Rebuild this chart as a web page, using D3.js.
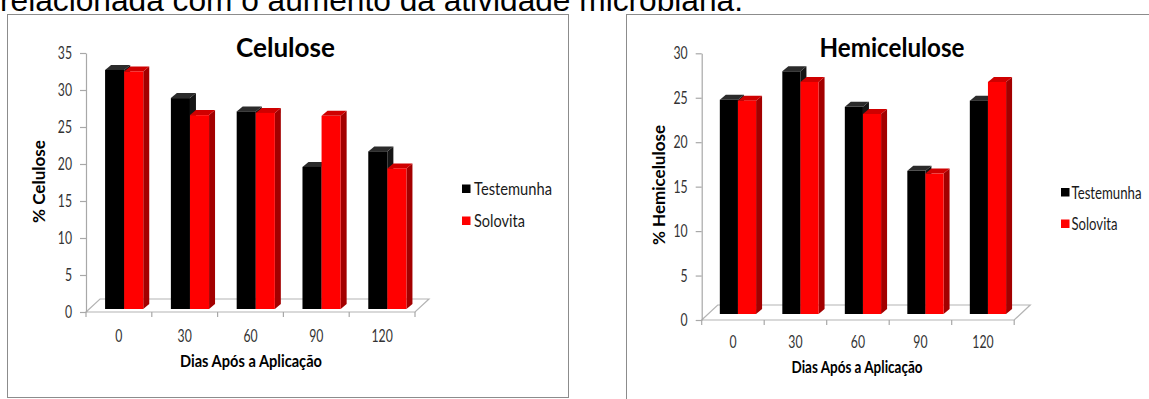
<!DOCTYPE html>
<html>
<head>
<meta charset="utf-8">
<script src="https://cdn.jsdelivr.net/npm/d3@7"></script>
<style>
  html, body { margin: 0; padding: 0; background: #fff; overflow: hidden; }
  svg { display: block; }
</style>
</head>
<body>
<svg id="chart" width="1149" height="399"></svg>
<script>
// Days after application (categories) and the two treatments
const days = ["0", "30", "60", "90", "120"];
const seriesNames = ["Testemunha", "Solovita"];

// % Celulose
const celuloseTestemunha = [32.3, 28.5, 26.7, 19.2, 21.3];
const celuloseSolovita   = [32.1, 26.2, 26.5, 26.1, 19.0];

// % Hemicelulose
const hemiTestemunha = [24.1, 27.3, 23.3, 16.1, 24.0];
const hemiSolovita   = [24.0, 26.1, 22.5, 15.8, 26.1];

// Value-axis tick labels
const celuloseTicks = [0, 5, 10, 15, 20, 25, 30, 35];
const hemiTicks = [0, 5, 10, 15, 20, 25, 30];

const svg = d3.select("#chart");
const FONT = "Lato, 'Open Sans', sans-serif";

const palette = {
  front: ["#000000", "#ff0000"],
  top:   ["#2b2b2b", "#cf0000"],
  side:  ["#151515", "#a30000"]
};

// compress text horizontally to a narrow, Calibri-like proportion
function squeeze(sel, k) {
  sel.each(function () {
    const w = this.getComputedTextLength();
    d3.select(this).attr("textLength", w * k).attr("lengthAdjust", "spacingAndGlyphs");
  });
}

// sentence running above the figures
svg.append("text")
  .attr("x", 0).attr("y", 11)
  .attr("font-family", "'Liberation Sans', Arial, sans-serif")
  .attr("font-size", 32)
  .attr("fill", "#000")
  .attr("textLength", 743).attr("lengthAdjust", "spacingAndGlyphs")
  .text("relacionada com o aumento da atividade microbiana.");

function drawPanel(p) {
  const g = svg.append("g");

  // chart area border
  g.append("rect")
    .attr("x", p.frame[0] + 0.5).attr("y", p.frame[1] + 0.5)
    .attr("width", p.frame[2]).attr("height", p.frame[3])
    .attr("fill", "#fff").attr("stroke", "#8c8c8c").attr("stroke-width", 1);

  const x = d3.scaleBand().domain(days).range(p.xRange).padding(0);
  const y = d3.scaleLinear().domain([0, p.max]).range(p.yRange);
  // bars stand slightly behind the front edge of the floor
  const yb = d3.scaleLinear().domain([0, p.max]).range([p.yRange[0] - p.lift, p.yRange[1] - p.lift]);
  const bw = x.bandwidth();
  const [fdx, fdy] = p.floor;
  const y0 = y(0);
  const [xa, xb] = p.xRange;

  // 3-D floor
  g.append("path")
    .attr("d", `M${xa},${y0}L${xb},${y0}L${xb + fdx},${y0 + fdy}L${xa + fdx},${y0 + fdy}Z`)
    .attr("fill", "#fff").attr("stroke", "#b4b4b4").attr("stroke-width", 1.2);

  // category tick marks below the floor front edge
  const bounds = days.map(d => x(d)).concat([xb]);
  g.selectAll("line.xt").data(bounds).join("line")
    .attr("x1", d => d).attr("x2", d => d)
    .attr("y1", y0).attr("y2", y0 + 5)
    .attr("stroke", "#a8a8a8").attr("stroke-width", 1.2);

  // value axis
  const axis = g.append("g")
    .attr("transform", `translate(${xa},0)`)
    .call(d3.axisLeft(y).tickValues(p.ticks).tickSize(6).tickSizeOuter(0).tickPadding(8));
  axis.select(".domain").attr("stroke", "#a8a8a8").attr("stroke-width", 1.2);
  axis.selectAll(".tick line").attr("stroke", "#a8a8a8").attr("stroke-width", 1.2);
  axis.selectAll(".tick text")
    .attr("font-family", FONT).attr("font-size", 17).attr("fill", "#333");
  squeeze(axis.selectAll(".tick text"), 0.72);

  // category labels
  const cat = g.selectAll("text.cat").data(days).join("text")
    .attr("x", d => x(d) + bw / 2).attr("y", p.catY)
    .attr("text-anchor", "middle")
    .attr("font-family", FONT).attr("font-size", 17).attr("fill", "#333")
    .text(d => d);
  squeeze(cat, 0.72);

  // bars
  const bar = bw * 0.29;
  const [ddx, ddy] = [6, -5];
  const rows = [];
  days.forEach((d, i) => {
    [p.a[i], p.b[i]].forEach((v, s) => rows.push({ d, v, s }));
  });
  const bars = g.selectAll("g.bar").data(rows).join("g");
  bars.each(function (r) {
    const gb = d3.select(this);
    const bx = x(r.d) + bw * 0.29 + r.s * bar;
    const top = yb(r.v), base = yb(0);
    gb.append("path")
      .attr("d", `M${bx + bar},${top}L${bx + bar + ddx},${top + ddy}L${bx + bar + ddx},${base + ddy}L${bx + bar},${base}Z`)
      .attr("fill", palette.side[r.s]);
    gb.append("path")
      .attr("d", `M${bx},${top}L${bx + ddx},${top + ddy}L${bx + bar + ddx},${top + ddy}L${bx + bar},${top}Z`)
      .attr("fill", palette.top[r.s]);
    gb.append("rect")
      .attr("x", bx).attr("y", top)
      .attr("width", bar).attr("height", base - top)
      .attr("fill", palette.front[r.s]);
  });

  // chart title
  g.append("text")
    .attr("x", p.titleX).attr("y", 57)
    .attr("text-anchor", "middle")
    .attr("font-family", FONT).attr("font-weight", "bold").attr("font-size", 26)
    .attr("textLength", p.titleLen).attr("lengthAdjust", "spacingAndGlyphs")
    .text(p.title);

  // axis titles
  g.append("text")
    .attr("transform", `translate(${p.yTitleX},${p.yTitleY}) rotate(-90)`)
    .attr("text-anchor", "middle")
    .attr("font-family", FONT).attr("font-weight", "bold").attr("font-size", 17)
    .attr("textLength", p.yTitleLen).attr("lengthAdjust", "spacingAndGlyphs")
    .text(p.yTitle);
  g.append("text")
    .attr("x", p.xTitleX).attr("y", p.xTitleY)
    .attr("text-anchor", "middle")
    .attr("font-family", FONT).attr("font-weight", "bold").attr("font-size", 17)
    .attr("textLength", p.xTitleLen).attr("lengthAdjust", "spacingAndGlyphs")
    .text("Dias Após a Aplicação");

  // legend
  seriesNames.forEach((name, s) => {
    const cy = p.legendY[s];
    g.append("rect")
      .attr("x", p.legendX).attr("y", cy - 4.5)
      .attr("width", 8.5).attr("height", 8.5)
      .attr("fill", palette.front[s]);
    g.append("text")
      .attr("x", p.legendText).attr("y", cy + 6)
      .attr("font-family", FONT).attr("font-size", 17).attr("fill", "#1a1a1a")
      .attr("textLength", p.legendLen[s]).attr("lengthAdjust", "spacingAndGlyphs")
      .text(name);
  });
}

drawPanel({
  frame: [7, 14, 561, 383],
  title: "Celulose", titleX: 285.5, titleLen: 99,
  yTitle: "% Celulose", yTitleX: 45, yTitleY: 181.5, yTitleLen: 83,
  xTitleX: 251, xTitleY: 367, xTitleLen: 142,
  xRange: [86, 415], yRange: [312, 53], max: 35, ticks: celuloseTicks,
  floor: [14, -13], lift: 3, catY: 342,
  a: celuloseTestemunha, b: celuloseSolovita,
  legendX: 462, legendY: [189, 221], legendText: 474, legendLen: [78, 51]
});

drawPanel({
  frame: [626, 14, 600, 420],
  title: "Hemicelulose", titleX: 892, titleLen: 145,
  yTitle: "% Hemicelulose", yTitleX: 665, yTitleY: 185, yTitleLen: 120,
  xTitleX: 857, xTitleY: 373, xTitleLen: 131,
  xRange: [701.7, 1014.2], yRange: [320, 53.3], max: 30, ticks: hemiTicks,
  floor: [16, -15], lift: 6, catY: 348,
  a: hemiTestemunha, b: hemiSolovita,
  legendX: 1061, legendY: [192.5, 224], legendText: 1071.5, legendLen: [70, 46]
});
</script>
</body>
</html>
